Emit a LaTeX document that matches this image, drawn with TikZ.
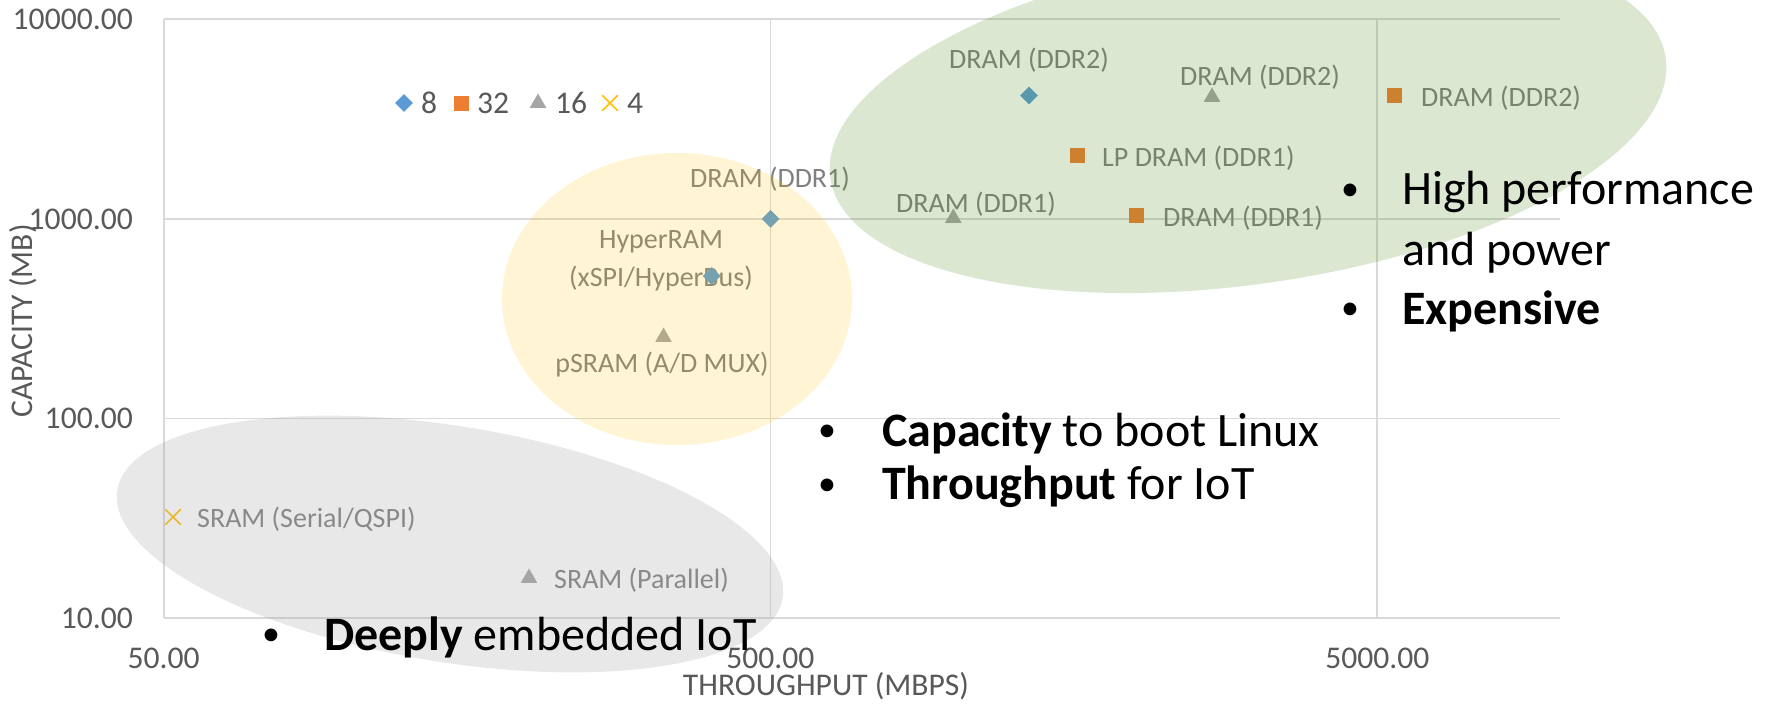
\documentclass[tikz,border=0pt]{standalone}
\usepackage{fontspec}
\setmainfont{Carlito}
\usetikzlibrary{shapes.geometric,shapes.misc}

\definecolor{gridc}{HTML}{D9D9D9}
\definecolor{ticktext}{HTML}{595959}
\definecolor{labeltext}{HTML}{808080}
\definecolor{mblue}{HTML}{5B9BD5}
\definecolor{morange}{HTML}{ED7D31}
\definecolor{mgray}{HTML}{A5A5A5}
\definecolor{myellow}{HTML}{FFC000}
\definecolor{zonegreen}{RGB}{86,144,38}
\definecolor{zoneyellow}{HTML}{FFC000}
\definecolor{zonegray}{HTML}{A5A5A5}

\begin{document}
\begin{tikzpicture}[x=1pt,y=-1pt,
  gridline/.style={draw=gridc, line width=1.8pt},
  tick/.style={text=ticktext, font=\fontsize{31.6}{36}\selectfont, inner sep=0pt},
  dlabel/.style={text=labeltext, font=\fontsize{28}{38}\selectfont, inner sep=0pt},
  bigtext/.style={font=\fontsize{48}{58}\selectfont, inner sep=0pt, anchor=west},
  bul/.style={font=\fontsize{36}{44}\selectfont, inner sep=0pt},
  dia/.style={diamond, fill=mblue, inner sep=0pt, minimum size=18pt},
  sq/.style={rectangle, fill=morange, inner sep=0pt, minimum size=15pt},
  tri/.style={regular polygon, regular polygon sides=3, fill=mgray, inner sep=0pt, minimum size=19pt},
  crs/.style={cross out, draw=myellow, line width=1.6pt, inner sep=0pt, minimum size=14pt},
  zone/.style={opacity=#1},
]
% canvas
\fill[white] (0,0) rectangle (1769,707);
\useasboundingbox (0,0) rectangle (1769,707);

% grid (log axes: x 50..10000, y 10..10000)
\draw[gridline] (163.6,19.2) -- (1560,19.2);
\draw[gridline] (163.6,218.9) -- (1560,218.9);
\draw[gridline] (163.6,418.5) -- (1560,418.5);
\draw[gridline] (163.6,618) -- (1560,618);
\draw[gridline] (163.6,19.2) -- (163.6,618);
\draw[gridline] (770.4,19.2) -- (770.4,618);
\draw[gridline] (1377.3,19.2) -- (1377.3,618);

% tick labels
\node[tick, anchor=east] (y4) at (133,19.2) {10000.00};
\node[tick, anchor=east] (y3) at (133,218.9) {1000.00};
\node[tick, anchor=east] (y2) at (133,418.5) {100.00};
\node[tick, anchor=east] (y1) at (133,618) {10.00};
\node[tick] (x1) at (163.6,658) {50.00};
\node[tick] (x2) at (770.4,658) {500.00};
\node[tick] (x3) at (1377.3,658) {5000.00};

% axis titles
\node[tick, rotate=90] (ytitle) at (23,321) {CAPACITY (MB)};
\node[tick] (xtitle) at (826,686) {THROUGHPUT (MBPS)};

% legend
\node[dia] (lg8) at (404,103) {};
\node[tick, anchor=west] (lg8t) at (421,103) {8};
\node[sq] (lg32) at (461,103) {};
\node[tick, anchor=west] (lg32t) at (477,103) {32};
\node[tri] (lg16) at (538,103) {};
\node[tick, anchor=west] (lg16t) at (555,103) {16};
\node[crs] (lg4) at (610,103) {};
\node[tick, anchor=west] (lg4t) at (627,103) {4};

% data points and labels
\node[dia] (p1) at (1029,95.5) {};
\node[dlabel] (l1) at (1029,60) {DRAM (DDR2)};
\node[tri] (p2) at (1212,97) {};
\node[dlabel] (l2) at (1260,77) {DRAM (DDR2)};
\node[sq] (p3) at (1394.5,95.5) {};
\node[dlabel, anchor=west] (l3) at (1421,98) {DRAM (DDR2)};
\node[sq] (p4) at (1077,155.7) {};
\node[dlabel, anchor=west] (l4) at (1102,158) {LP DRAM (DDR1)};
\node[sq] (p5) at (1136,215.9) {};
\node[dlabel, anchor=west] (l5) at (1163,218) {DRAM (DDR1)};
\node[tri] (p6) at (953.3,218) {};
\node[dlabel] (l6) at (976,204) {DRAM (DDR1)};
\node[dia] (p7) at (770.6,218.9) {};
\node[dlabel] (l7) at (770,179) {DRAM (DDR1)};
\node[dlabel, align=center] (l8) at (661,261) {HyperRAM\\(xSPI/HyperBus)};
\node[dia] (p8) at (711.7,276.1) {};
\node[tri] (p9) at (663.5,337) {};
\node[dlabel] (l9) at (662,365) {pSRAM (A/D MUX)};
\node[crs] (p10) at (173,517) {};
\node[dlabel, anchor=west] (l10) at (197,519) {SRAM (Serial/QSPI)};
\node[tri] (p11) at (529,578) {};
\node[dlabel, anchor=west] (l11) at (554,580) {SRAM (Parallel)};

% highlighted zones
\fill[zonegreen, zone=0.21, rotate around={8.2:(1248,118)}]
  (1248,118) ellipse [x radius=422, y radius=166];
\fill[zoneyellow, zone=0.17] (677,299) ellipse [x radius=175, y radius=146];
\fill[zonegray, zone=0.25, rotate around={-9.2:(450,544)}]
  (450,544) ellipse [x radius=337, y radius=118];

% annotations
\node[bul] (b1) at (1350,192) {•};
\node[bigtext] (t1) at (1402,192) {High performance};
\node[bigtext] (t1b) at (1402,253) {and power};
\node[bul] (b2) at (1350,311) {•};
\node[bigtext] (t2) at (1402,311) {\textbf{Expensive}};

\node[bul] (b3) at (827,433) {•};
\node[bigtext] (t3) at (882,433) {\textbf{Capacity} to boot Linux};
\node[bul] (b4) at (827,487) {•};
\node[bigtext] (t4) at (882,487) {\textbf{Throughput} for IoT};

\node[bul] (b5) at (271,637) {•};
\node[bigtext] (t5) at (324,637) {\textbf{Deeply} embedded IoT};
\end{tikzpicture}
\end{document}
